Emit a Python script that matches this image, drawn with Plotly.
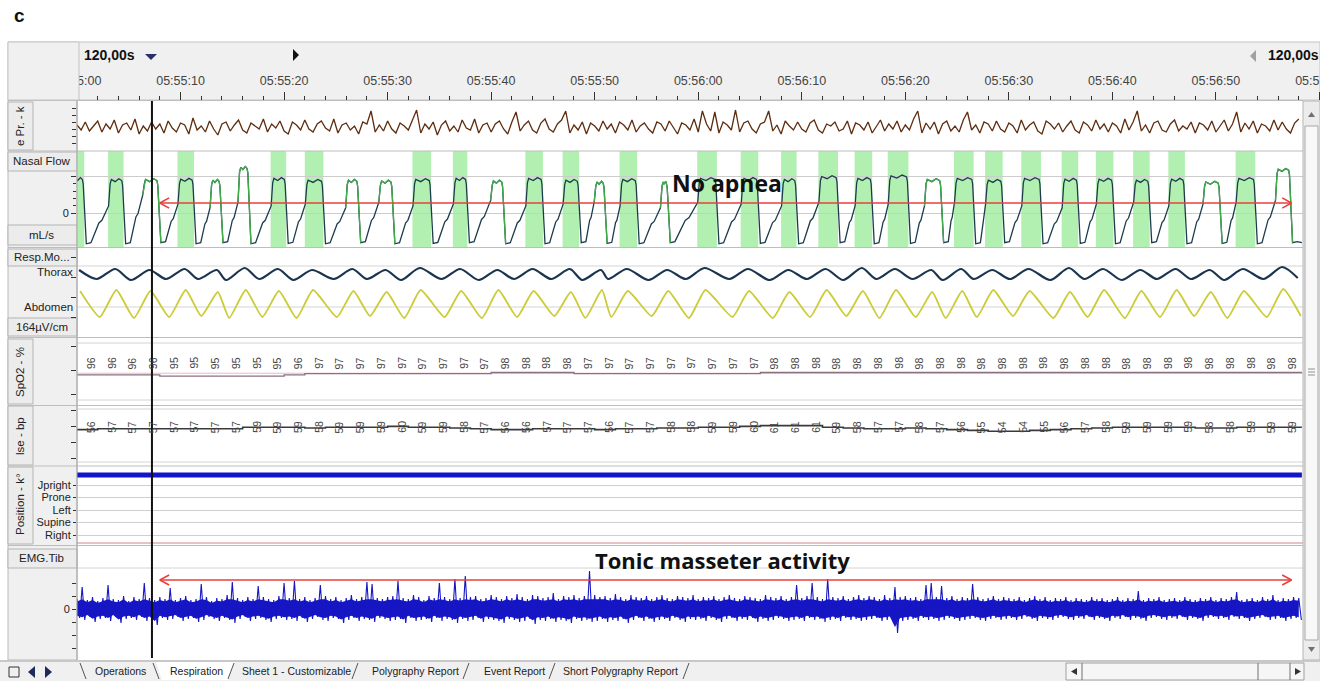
import plotly.graph_objects as go

W, H = 1320, 681

# ---------------- data ----------------
tick_seconds = [0, 10, 20, 30, 40, 50, 60, 70, 80, 90, 100, 110, 120]
tick_labels = ["05:55:00", "05:55:10", "05:55:20", "05:55:30", "05:55:40", "05:55:50",
               "05:56:00", "05:56:10", "05:56:20", "05:56:30", "05:56:40", "05:56:50", "05:57:00"]
T_END = 118.3          # last visible second of signal
cursor_t = 7.24        # vertical cursor position (s)
arrow_t = [8.0, 117.3]  # red arrows span (s)

# pressure (arbitrary units), one value every 0.4 s
pressure_step = 0.4
pressure = [
    2, -3, 5, -4, 1, 6, -5, 3, -2, 7, -6, 2, 4, -3, 8, -7, 1, -4, 5, -2,
    3, -6, 6, -1, -5, 4, 2, -7, 9, -3, 1, -5, 6, -2, -8, 3, 5, -4, 2, 7,
    -3, -6, 4, 1, -2, 8, -5, 3, -1, 6, -4, -7, 5, 2, -3, 7, -2, -5, 3, 6,
    -1, -4, 8, -6, 2, 4, -3, 1, -7, 5, 3, 16, -5, 2, -4, 6, -2, -6, 4, 1,
    -3, 7, 17, -6, 3, -2, 5, -8, 2, 6, -4, 1, -5, 7, -1, -3, 8, -6, 2, 4,
    -5, 3, 6, -2, -7, 5, 15, -4, 2, 6, -3, -6, 4, 8, -2, -5, 3, 7, 16, -6,
    2, -3, 5, -7, 4, 1, -4, 6, -2, 3, -6, 5, 2, -3, 7, -5, 1, 4, -2, -6,
    5, 3, -4, 6, -1, -7, 4, 2, -3, 8, -5, 16, 3, -4, 15, -6, 5, 2, -3, 17,
    -5, 4, 6, -2, -6, 3, 5, 16, -4, 2, -7, 6, 1, -3, 5, -2, -5, 4, 7, -3,
    -6, 3, 1, 5, -4, -2, 6, -7, 4, 2, -3, 5, -6, 1, 7, -4, 3, -2, 6, -5,
    2, -3, 8, 16, -6, 4, -2, 5, -7, 3, 6, -4, 1, -5, 7, 15, -3, 2, -6, 5,
    3, -4, 6, -2, -5, 4, 1, -6, 7, -3, 2, 5, -4, -7, 6, 3, -2, 4, -5, 1,
    6, -3, -6, 5, 2, -4, 7, -2, 3, -5, 4, 1, -6, 8, -3, 5, 16, -4, 2, -6,
    4, 6, -3, -5, 3, 7, -4, 1, -2, 5, -6, 4, 2, -3, 6, -5, 1, 7, -4, 3,
    15, -5, 4, -2, 6, -6, 3, 1, -4, 7, -3, 5, -2, -6, 4, 8]

# nasal flow: one entry per breath (seconds, normalised flow)
flow_on = [-0.3, 3.2, 6.5, 9.9, 13.0, 15.7, 18.9, 22.2, 26.1, 29.3, 32.6, 36.5, 40.1, 43.5, 47.1,
           50.1, 52.6, 56.5, 60.1, 64.3, 68.2, 71.8, 75.3, 78.5, 82.0, 84.9, 87.9, 91.4, 95.3,
           98.6, 102.2, 105.6, 108.9, 112.1, 115.9]
flow_off = [0.6, 4.4, 7.8, 11.2, 13.8, 16.5, 20.1, 23.7, 27.1, 30.4, 34.1, 37.6, 41.1, 44.9, 48.4,
            50.9, 54.0, 57.0, 61.7, 65.7, 69.4, 73.4, 76.7, 80.2, 83.4, 86.5, 89.3, 93.0, 96.6,
            100.0, 103.5, 106.9, 110.3, 113.7, 117.1]
flow_peak = [0.95, 0.92, 0.92, 0.93, 0.9, 1.25, 0.95, 0.9, 0.9, 0.88, 0.92, 0.95, 0.88, 0.95, 0.9,
             0.85, 0.92, 0.85, 0.95, 0.95, 0.92, 1.0, 0.95, 1.02, 0.92, 0.95, 0.9, 0.95, 0.93,
             0.93, 0.9, 0.93, 0.85, 0.95, 1.2]
flow_trough = [-0.83, -0.83, -0.8, -0.83, -0.8, -0.83, -0.82, -0.83, -0.8, -0.83, -0.82, -0.8,
               -0.83, -0.83, -0.8, -0.82, -0.83, -0.8, -0.83, -0.82, -0.83, -0.8, -0.83, -0.82,
               -0.8, -0.83, -0.8, -0.83, -0.82, -0.83, -0.8, -0.83, -0.82, -0.83, -0.8]
flow_ramp = [0.2, 0.5, 0.25, 0.15, 0.3, 0.2, 0.25, 0.15, 0.3, 0.2, 0.25, 0.35, 0.2, 0.25, 0.3,
             0.2, 0.15, 0.3, 0.25, 0.2, 0.3, 0.2, 0.25, 0.2, 0.3, 0.25, 0.2, 0.15, 0.25, 0.3,
             0.2, 0.25, 0.3, 0.35, -0.8]
flow_scored = [1, 1, 0, 1, 0, 0, 1, 1, 0, 0, 1, 1, 0, 1, 1, 0, 1, 0, 1, 1, 1, 1, 1, 1, 0, 1, 1,
               1, 1, 1, 1, 1, 0, 1, 0]

# thorax / abdomen belts, peak and trough per breath
thorax_peak = [4, 5, 4, 5, 4, 6, 5, 4, 5, 4, 6, 5, 4, 5, 5, 4, 5, 4, 6, 5, 4, 5, 6, 5, 4, 5, 4,
               5, 6, 5, 4, 5, 4, 5, 7]
thorax_trough = [-5, -6, -5, -5, -6, -5, -6, -5, -5, -6, -5, -6, -5, -5, -6, -5, -6, -5, -5, -6,
                 -5, -6, -5, -5, -6, -5, -5, -6, -5, -6, -5, -5, -6, -5, -4]
abdomen_peak = [13, 14, 13, 14, 12, 14, 13, 14, 13, 12, 14, 13, 14, 13, 12, 14, 13, 13, 14, 13,
                12, 14, 13, 14, 12, 13, 14, 13, 12, 14, 13, 14, 12, 13, 15]
abdomen_trough = [-13, -14, -13, -12, -14, -13, -14, -13, -12, -14, -13, -14, -13, -12, -14, -13,
                  -12, -14, -13, -14, -13, -12, -14, -13, -14, -13, -12, -14, -13, -14, -13, -12,
                  -14, -13, -12]

# SpO2 (%) and pulse (bpm) readings, one every 2 s starting at 1.35 s
reading_t0, reading_step = 1.35, 2.0
spo2 = [96, 96, 96, 96, 95, 95, 95, 95, 95, 95, 96, 97, 97, 97, 97, 97, 97, 97, 97, 97,
        98, 98, 98, 98, 97, 97, 97, 97, 97, 97, 97, 97, 97, 98, 98, 98, 98, 98, 98, 98,
        98, 98, 98, 98, 98, 98, 98, 98, 98, 98, 98, 98, 98, 98, 98, 98, 98, 98, 98]
pulse = [56, 57, 57, 57, 57, 57, 57, 57, 59, 59, 59, 58, 59, 59, 59, 60, 59, 59, 58, 57,
         56, 56, 57, 57, 57, 56, 57, 57, 58, 58, 59, 59, 60, 61, 61, 61, 59, 58, 57, 57,
         58, 57, 56, 55, 54, 54, 55, 56, 57, 58, 59, 59, 59, 59, 58, 58, 59, 59, 59]

# body position
position_levels = [0, 1, 2, 3, 4]
position_names = ["Right", "Supine", "Left", "Prone", "Jpright"]
position_value = 4.8

# EMG envelope, one pair every 0.5 s
emg_step = 0.5
emg_upper = [
    10, 22, 9, 12, 8, 11, 24, 10, 9, 13, 8, 12, 10, 26, 11, 9, 12, 10, 21, 9,
    11, 13, 9, 10, 25, 12, 8, 11, 10, 14, 27, 11, 9, 12, 10, 23, 12, 10, 9, 13,
    26, 11, 28, 10, 12, 9, 11, 24, 13, 10, 12, 9, 11, 14, 10, 12, 27, 25, 11, 10,
    12, 13, 28, 11, 10, 14, 12, 9, 13, 11, 26, 12, 10, 30, 11, 33, 12, 13, 10, 11,
    14, 12, 10, 13, 11, 15, 12, 10, 14, 13, 11, 12, 16, 10, 13, 12, 14, 11, 13, 38,
    14, 12, 13, 11, 15, 12, 10, 14, 12, 11, 13, 10, 12, 14, 11, 10, 13, 12, 11, 14,
    10, 12, 11, 13, 10, 12, 14, 11, 10, 13, 12, 11, 10, 14, 12, 11, 13, 10, 12, 24,
    11, 13, 26, 12, 10, 30, 12, 11, 13, 10, 12, 14, 11, 13, 12, 10, 14, 11, 22, 12,
    13, 11, 12, 10, 24, 26, 12, 23, 11, 13, 10, 12, 11, 25, 12, 10, 11, 13, 10, 12,
    11, 10, 12, 9, 11, 13, 10, 12, 9, 11, 10, 12, 9, 11, 10, 9, 12, 10, 11, 9,
    10, 12, 9, 11, 10, 18, 9, 11, 10, 12, 9, 10, 11, 9, 12, 10, 9, 11, 10, 12,
    9, 11, 10, 12, 17, 9, 10, 11, 9, 12, 10, 14, 9, 11, 10, 12, 11]
emg_lower = [
    -9, -11, -8, -13, -10, -9, -12, -8, -14, -10, -9, -11, -8, -12, -10, -16, -9, -11, -10, -8,
    -12, -10, -9, -13, -11, -8, -10, -12, -9, -11, -14, -10, -8, -12, -10, -9, -11, -13, -10, -9,
    -11, -10, -12, -9, -13, -10, -8, -11, -12, -9, -10, -14, -11, -9, -12, -10, -11, -13, -9, -10,
    -12, -11, -10, -14, -9, -12, -11, -10, -13, -9, -12, -10, -11, -14, -10, -12, -11, -9, -13, -10,
    -11, -12, -14, -10, -11, -13, -12, -10, -15, -11, -12, -10, -13, -11, -12, -14, -10, -12, -11, -13,
    -12, -10, -13, -11, -12, -10, -14, -11, -9, -12, -10, -13, -11, -10, -12, -9, -11, -13, -10, -11,
    -10, -12, -9, -11, -13, -10, -9, -12, -10, -11, -9, -13, -10, -12, -11, -9, -10, -12, -11, -10,
    -12, -9, -11, -10, -13, -11, -10, -12, -9, -11, -10, -12, -11, -10, -9, -12, -11, -10, -24, -12,
    -11, -10, -12, -9, -11, -10, -12, -11, -9, -10, -12, -11, -10, -9, -11, -12, -10, -9, -11, -10,
    -9, -11, -10, -8, -10, -12, -9, -10, -11, -9, -8, -10, -11, -9, -10, -8, -11, -9, -10, -12,
    -9, -10, -8, -11, -9, -10, -12, -9, -8, -10, -11, -9, -10, -8, -11, -9, -10, -12, -9, -8,
    -10, -9, -11, -8, -10, -9, -12, -10, -9, -8, -11, -10, -9, -12, -10, -9, -11]

# ---------------- layout helpers ----------------
X0_PX = 77


def dom(top, bottom):
    return [1 - bottom / H, 1 - top / H]


P_PRES, P_FLOW, P_RESP = (101, 150), (151, 247), (248, 337)
P_SPO2, P_PULS, P_POS, P_EMG = (338, 405), (405, 466), (466, 545), (546, 660)
THORAX_BASE, ABDOMEN_BASE = 63, 33

FONT = "Liberation Sans"
fig = go.Figure()
noh = dict(hoverinfo="skip", showlegend=False)

# pressure
fig.add_trace(go.Scatter(x=[i * pressure_step for i in range(len(pressure))], y=pressure,
                         xaxis="x", yaxis="y", mode="lines",
                         line=dict(color="#5e2c0e", width=1.3), **noh))

# nasal flow
fx, fy, gx, gy = [], [], [], []
n = len(flow_on)
for i in range(n):
    on, off, pk, tr = flow_on[i], flow_off[i], flow_peak[i], flow_trough[i]
    d = off - on
    seg = [(on, pk - 0.12), (on + 0.12, pk), (on + 0.4 * d, pk - 0.06), (on + 0.7 * d, pk + 0.02),
           (off - 0.08, pk - 0.03), (off, pk - 0.15), (off + 0.3, tr)]
    if not flow_scored[i]:
        prev = [(on - 0.15, flow_ramp[i - 1])] if i > 0 else []
        for p in prev + seg:
            gx.append(p[0]); gy.append(p[1])
        gx.append(None); gy.append(None)
    seg.append((off + 0.75, tr + 0.03))
    if i + 1 < n:
        nxt = flow_on[i + 1] - 0.15
        g = nxt - (off + 0.75)
        r = flow_ramp[i]
        seg += [(off + 0.75 + 0.45 * g, tr + 0.55 * (r - tr)),
                (off + 0.75 + 0.62 * g, tr + 0.62 * (r - tr)), (nxt, r)]
    else:
        seg.append((T_END, tr))
    for p in seg:
        fx.append(p[0]); fy.append(p[1])
fig.add_trace(go.Scatter(x=fx, y=fy, xaxis="x", yaxis="y2", mode="lines",
                         line=dict(color="#1c3b4d", width=1.3), **noh))
fig.add_trace(go.Scatter(x=gx, y=gy, xaxis="x", yaxis="y2", mode="lines",
                         line=dict(color="#3fae49", width=1.3), **noh))

# thorax & abdomen
tx, ty, ax_, ay_ = [], [], [], []
for i in range(n):
    nxt_on = flow_on[i + 1] if i + 1 < n else flow_on[i] + 3.3
    tx += [flow_on[i] + 0.5, nxt_on - 1.3]
    ty += [THORAX_BASE + thorax_peak[i], THORAX_BASE + thorax_trough[i]]
    ax_ += [flow_on[i] + 0.6, nxt_on - 1.0]
    ay_ += [ABDOMEN_BASE + abdomen_peak[i], ABDOMEN_BASE + abdomen_trough[i]]
fig.add_trace(go.Scatter(x=tx, y=ty, xaxis="x", yaxis="y3", mode="lines",
                         line=dict(color="#1b3550", width=2.2, shape="spline", smoothing=0.8), **noh))
fig.add_trace(go.Scatter(x=ax_, y=ay_, xaxis="x", yaxis="y3", mode="lines",
                         line=dict(color="#cccc38", width=1.8, shape="spline", smoothing=0.5), **noh))

# SpO2 & pulse trends
rt = [reading_t0 + reading_step * k for k in range(len(spo2))]
fig.add_trace(go.Scatter(x=[t - 1.35 for t in rt] + [T_END], y=spo2 + [spo2[-1]], xaxis="x",
                         yaxis="y4", mode="lines", line=dict(color="#8a7080", width=1.3, shape="hv"), **noh))
fig.add_trace(go.Scatter(x=[t - 1.35 for t in rt] + [T_END], y=pulse + [pulse[-1]], xaxis="x",
                         yaxis="y5", mode="lines", line=dict(color="#3a3a3a", width=1.6, shape="hv"), **noh))

# position
fig.add_trace(go.Scatter(x=[0, T_END], y=[position_value, position_value], xaxis="x", yaxis="y6",
                         mode="lines", line=dict(color="#1414c8", width=5), **noh))

# EMG
zx, zy = [], []
for i, (u, l) in enumerate(zip(emg_upper, emg_lower)):
    zx += [i * emg_step, i * emg_step + emg_step / 2]
    zy += [u, l]
cx = [i * emg_step for i in range(len(emg_upper))]
fig.add_trace(go.Scatter(x=cx + cx[::-1], y=[min(u, 13) * 0.75 for u in emg_upper] +
                         [l * 0.75 for l in emg_lower][::-1],
                         xaxis="x", yaxis="y7", mode="lines", fill="toself", fillcolor="#1616c4",
                         line=dict(width=0), **noh))
fig.add_trace(go.Scatter(x=zx, y=zy, xaxis="x", yaxis="y7", mode="lines",
                         line=dict(color="#1616c4", width=1.1), **noh))

# ---------------- shapes ----------------
shapes = []


def R(x0, y0, x1, y1, fill, line=None, lw=1, layer="below"):
    shapes.append(dict(type="rect", xref="paper", yref="paper", x0=x0 / W, x1=x1 / W,
                       y0=1 - y1 / H, y1=1 - y0 / H, fillcolor=fill,
                       line=dict(color=line or fill, width=lw if line else 0), layer=layer))


def L(x0, y0, x1, y1, color, lw=1, layer="above"):
    shapes.append(dict(type="line", xref="paper", yref="paper", x0=x0 / W, x1=x1 / W,
                       y0=1 - y0 / H, y1=1 - y1 / H, line=dict(color=color, width=lw), layer=layer))


def P(pts, fill, layer="above"):
    d = "M " + " L ".join(f"{x / W:.5f},{1 - y / H:.5f}" for x, y in pts) + " Z"
    shapes.append(dict(type="path", xref="paper", yref="paper", path=d, fillcolor=fill,
                       line=dict(width=0), layer=layer))


# header + left column backgrounds
R(8, 42, 1320, 100, "#f0f0f0", "#c4c4c4")
R(8, 100, 77, 660, "#f0f0f0", "#b8b8b8")
# label boxes
for (x0, y0, x1, y1) in [(8, 152, 77, 171), (8, 225, 77, 245), (8, 249, 77, 266), (8, 318, 77, 336),
                         (8, 549, 77, 568), (8, 102, 33, 150), (8, 339, 33, 404), (8, 406, 33, 465),
                         (8, 467, 33, 544)]:
    R(x0, y0, x1, y1, "#ececec", "#b4b4b4")

# green scored bands
for i in range(n):
    if flow_scored[i]:
        shapes.append(dict(type="rect", xref="x", yref="paper", x0=max(0, flow_on[i] - 0.2),
                           x1=flow_off[i] + 0.1, y0=1 - P_FLOW[1] / H, y1=1 - P_FLOW[0] / H,
                           fillcolor="#b2f0b2", line=dict(width=0), layer="below"))

# panel grid lines
for yy in [266, 307, 343, 400, 409, 462, 568]:
    L(X0_PX, yy, 1303, yy, "#d4d4d4", 1, "below")
shapes.append(dict(type="line", xref="paper", yref="y4", x0=X0_PX / W, x1=1303 / W, y0=97.4, y1=97.4,
                   line=dict(color="#e6bccb", width=1), layer="below"))
shapes.append(dict(type="line", xref="paper", yref="y6", x0=X0_PX / W, x1=1303 / W, y0=-0.64, y1=-0.64,
                   line=dict(color="#d08686", width=1.2), layer="below"))

# panel separators
for yy in [100.5, 151, 247.5, 337.5, 405.5, 466, 545.5]:
    L(8, yy, 1303, yy, "#bdbdbd", 1)
L(77, 100, 77, 660, "#a8a8a8", 1)

# header-left cell (hides half of first tick label)
R(8, 42, 79, 100, "#f0f0f0", "#c4c4c4", 1, "above")

# cursor
shapes.append(dict(type="line", xref="x", yref="paper", x0=cursor_t, x1=cursor_t,
                   y0=1 - 658 / H, y1=1 - 101 / H, line=dict(color="#111111", width=2), layer="above"))

# red arrows
for yref, yv, hh in [("y2", 0.28, 0.14), ("y7", 29, 5)]:
    a0, a1 = arrow_t
    for (x0, y0, x1, y1) in [(a0, yv, a1, yv), (a0, yv, a0 + 0.9, yv + hh), (a0, yv, a0 + 0.9, yv - hh),
                             (a1, yv, a1 - 0.9, yv + hh), (a1, yv, a1 - 0.9, yv - hh)]:
        shapes.append(dict(type="line", xref="x", yref=yref, x0=x0, x1=x1, y0=y0, y1=y1,
                           line=dict(color="#e8403c", width=1.5), layer="above"))

# right scrollbar
R(1303, 101, 1320, 660, "#ececec", "#b4b4b4", 1, "above")
R(1305, 126, 1318, 640, "#f8f8f8", "#a8a8a8", 1, "above")
for yy in [369, 372, 375]:
    L(1308, yy, 1315, yy, "#909090", 1)
P([(1308, 117), (1311.5, 112), (1315, 117)], "#707070")
P([(1308, 647), (1311.5, 652), (1315, 647)], "#707070")

# bottom tab bar
R(0, 660, 1320, 681, "#f0f0f0", None, 1, "above")
L(0, 661, 1320, 661, "#a0a0a0", 1)
P([(156, 662), (234, 662), (228, 680), (162, 680)], "#ffffff")
for (x0, x1) in [(80, 86), (153, 159)]:
    L(x0, 663, x1, 679, "#555555", 1)
for (x0, x1) in [(234, 228), (358, 352), (469, 463), (555, 549), (689, 683)]:
    L(x0, 663, x1, 679, "#555555", 1)
R(9, 667, 19, 677, "#f0f0f0", "#333333", 1, "above")
P([(35, 666), (28, 672), (35, 678)], "#1d2b5a")
P([(45, 666), (52, 672), (45, 678)], "#1d2b5a")
R(1066, 663, 1304, 680, "#f6f6f6", "#a0a0a0", 1, "above")
L(1082, 663, 1082, 680, "#707070", 1)
L(1258, 663, 1258, 680, "#707070", 1)
L(1290, 663, 1290, 680, "#707070", 1)
P([(1077, 668), (1071, 671.5), (1077, 675)], "#333333")
P([(1295, 668), (1301, 671.5), (1295, 675)], "#333333")

# header markers
P([(145, 54), (157, 54), (151, 60)], "#2a2f6a")
P([(293, 49), (299, 55), (293, 61)], "#111111")
P([(1256, 50), (1250, 56), (1256, 62)], "#a0a0a0")

# ---------------- annotations ----------------
ann = []


def T(x, y, text, size=11.5, color="#222222", bold=False, xanchor="center", angle=0, family=FONT):
    ann.append(dict(xref="paper", yref="paper", x=x / W, y=1 - y / H,
                    text=f"<b>{text}</b>" if bold else text, showarrow=False,
                    font=dict(size=size, color=color, family=family), xanchor=xanchor,
                    yanchor="middle", textangle=angle))


T(12, 16, "c", 19, "#111111", True, "left")
T(82, 55, "120,00s", 14, "#111111", True, "left")
T(1266, 55, "120,00s", 14, "#111111", True, "left")
T(42, 161, "Nasal Flow")
T(42, 235, "mL/s")
T(42, 257, "Resp.Mo...")
T(75, 272, "Thorax", xanchor="right")
T(75, 307, "Abdomen", xanchor="right")
T(42, 327, "164µV/cm")
T(42, 558, "EMG.Tib")
T(20, 126, "e Pr. - k", angle=-90)
T(20, 372, "SpO2 - %", angle=-90)
T(20, 436, "lse - bp", angle=-90)
T(20, 505, "Position - k°", angle=-90)
for x, s in [(121, "Operations"), (196, "Respiration"), (296, "Sheet 1 - Customizable"),
             (415, "Polygraphy Report"), (514, "Event Report"), (620, "Short Polygraphy Report")]:
    T(x, 671, s, 10.5)

for k, t in enumerate(rt):
    ann.append(dict(xref="x", yref="y4 domain", x=t, y=0.745, text=str(spo2[k]), showarrow=False,
                    textangle=-90, font=dict(size=10.5, color="#444444", family=FONT)))
    ann.append(dict(xref="x", yref="y5 domain", x=t, y=0.77, text=str(pulse[k]), showarrow=False,
                    textangle=-90, font=dict(size=10.5, color="#444444", family=FONT)))

ann.append(dict(xref="x", yref="y2", x=62.8, y=0.82, text="<b>No apnea</b>", showarrow=False,
                font=dict(size=23, color="#111111", family="Open Sans")))
ann.append(dict(xref="x", yref="y7", x=62.3, y=49, text="<b>Tonic masseter activity</b>", showarrow=False,
                font=dict(size=22, color="#111111", family="Open Sans")))

# ---------------- axes ----------------
base_y = dict(anchor="x", showgrid=False, zeroline=False, showline=False, fixedrange=True,
              automargin=False,
              tickfont=dict(size=11, color="#222222", family=FONT), tickcolor="#333333")
fig.update_layout(
    template="none",
    width=W, height=H, margin=dict(l=0, r=0, t=0, b=0, pad=0, autoexpand=False),
    paper_bgcolor="white", plot_bgcolor="white", showlegend=False,
    font=dict(family=FONT, size=10, color="#222222"),
    xaxis=dict(domain=[X0_PX / W, 1.0], range=[0, 120.05], side="top", anchor="y",
               automargin=False, ticklabeloverflow="allow",
               tickmode="array", tickvals=tick_seconds, ticktext=tick_labels, ticks="outside",
               ticklen=8, tickwidth=1, tickcolor="#333333", ticklabelstandoff=2,
               tickfont=dict(size=12.5, color="#444444", family=FONT),
               minor=dict(dtick=2, tick0=0, ticks="outside", ticklen=4, tickcolor="#333333"),
               showgrid=False, zeroline=False, showline=False, fixedrange=True),
    yaxis=dict(base_y, domain=dom(*P_PRES), range=[-23, 26], tickvals=[-16, -9, -2, 5, 12, 19],
               ticks="outside", ticklen=4, showticklabels=False),
    yaxis2=dict(base_y, domain=dom(*P_FLOW), range=[-0.917, 1.694], tickvals=[0, 1],
                ticktext=["0", ""], ticks="outside", ticklen=5, showgrid=True, gridcolor="#cccccc",
                minor=dict(tickvals=[0.2, 0.4, 0.6, 0.8], ticks="outside", ticklen=3,
                           tickcolor="#333333", showgrid=False)),
    yaxis3=dict(base_y, domain=dom(*P_RESP), range=[0, 89], showticklabels=False),
    yaxis4=dict(base_y, domain=dom(*P_SPO2), range=[70.92, 126.75], showticklabels=False),
    yaxis5=dict(base_y, domain=dom(*P_PULS), range=[10.5, 86.75], showticklabels=False),
    yaxis6=dict(base_y, domain=dom(*P_POS), range=[-0.8, 5.52], tickvals=position_levels,
                ticktext=position_names, ticks="outside", ticklen=3, showgrid=True,
                gridcolor="#cfcfcf"),
    yaxis7=dict(base_y, domain=dom(*P_EMG), range=[-51, 63], tickvals=[-39, -26, -13, 0, 13, 26],
                ticktext=["", "", "", "0", "", ""], ticks="outside", ticklen=4),
    shapes=shapes, annotations=ann,
)

fig.write_html("out.html", config={"responsive": False, "displayModeBar": False},
               post_script="document.body.style.margin='0px';document.body.style.overflow='hidden';")
